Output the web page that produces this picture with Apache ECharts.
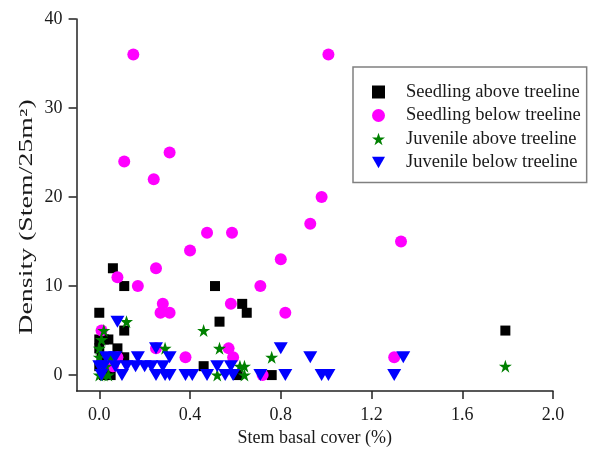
<!DOCTYPE html>
<html>
<head>
<meta charset="utf-8">
<script src="https://cdn.jsdelivr.net/npm/echarts@6/dist/echarts.min.js"></script>
<style>html,body{margin:0;padding:0;background:#fff}#c{width:595px;height:452px}</style>
</head>
<body>
<div id="c"></div>
<script>
var seriesNames = ['Seedling above treeline','Seedling below treeline','Juvenile above treeline','Juvenile below treeline'];
var xTicks = [0.0, 0.4, 0.8, 1.2, 1.6, 2.0];
var yTicks = [0, 10, 20, 30, 40];
var yTitle = 'Density (Stem/25m²)';
var xTitle = 'Stem basal cover (%)';

var seedlingAbove = [[0.00,7],[0.06,12],[0.11,10],[0.51,10],[0.63,8],[0.65,7],[0.53,6],[0.11,5],[0.08,3],[0.11,2],[0.46,1],[0.76,0],[1.79,5],
  [0.00,4],[0.02,4],[0.04,4],[0.00,3],[0.01,2],[0.00,1],[0.02,0],[0.05,0],[0.61,0]];
var seedlingBelow = [[0.15,36],[1.01,36],[0.11,24],[0.31,25],[0.24,22],[0.98,20],[0.93,17],[0.475,16],[0.585,16],[0.40,14],[1.33,15],
  [0.80,13],[0.25,12],[0.08,11],[0.17,10],[0.71,10],[0.28,8],[0.27,7],[0.31,7],[0.58,8],[0.82,7],[0.38,2],[0.57,3],[0.59,2],
  [0.01,5],[0.25,3],[0.08,2],[1.30,2],[0.72,0],[0.06,1]];
var juvenileAbove = [[0.12,6],[0.02,5],[0.46,5],[0.29,3],[0.53,3],[0.64,1],[0.62,1],[0.76,2],[0.52,0],[0.64,0],[0.00,3],[1.79,1],
  [0.00,2],[0.01,1],[0.00,0],[0.02,0],[0.03,1],[0.04,0],[0.05,2],[0.01,4]];
var juvenileBelow = [[0.08,6],[0.25,3],[0.80,3],[0.03,2],[0.07,2],[0.17,2],[0.31,2],[0.93,2],[1.34,2],[0.00,1],[0.02,1],[0.07,1],
  [0.12,1],[0.16,1],[0.20,1],[0.23,1],[0.28,1],[0.52,1],[0.58,1],[0.10,0],[0.25,0],[0.29,0],[0.31,0],[0.38,0],[0.41,0],[0.475,0],
  [0.555,0],[0.59,0],[0.71,0],[0.82,0],[0.98,0],[1.01,0],[1.30,0],[0.01,0]];

var SQR = 'path://M0,0 L10,0 L10,10 L0,10 Z';
var STAR = 'path://M5,0 L6.18,3.45 L9.76,3.45 L6.79,5.59 L7.94,9.05 L5,6.91 L2.06,9.05 L3.21,5.59 L0.24,3.45 L3.82,3.45 Z';
var TRI = 'path://M0,0 L10,0 L5,8.7 Z';
var FONT = '"Liberation Serif","Times New Roman",serif';
var TXT = '#1a1a1a';

var chart = echarts.init(document.getElementById('c'), null, {renderer:'canvas'});
chart.setOption({
  animation: false,
  backgroundColor: '#fff',
  grid: {left: 76.6, right: 42, top: 19, bottom: 57, containLabel: false},
  xAxis: {
    type: 'value', min: -0.1, max: 2.0,
    name: xTitle, nameLocation: 'middle', nameGap: 36,
    nameTextStyle: {fontFamily: FONT, fontSize: 18, color: TXT},
    axisLine: {show: true, onZero: false, lineStyle: {color: '#222', width: 1.5}},
    axisTick: {show: true, length: 8, lineStyle: {color: '#222', width: 1.5}, customValues: xTicks},
    axisLabel: {fontFamily: FONT, fontSize: 18, color: TXT, margin: 15, customValues: xTicks,
      formatter: function(v){ return v.toFixed(1); }},
    splitLine: {show: false}
  },
  yAxis: {
    type: 'value', min: -1.8, max: 40,
    axisLine: {show: true, onZero: false, lineStyle: {color: '#222', width: 1.5}},
    axisTick: {show: true, length: 8, lineStyle: {color: '#222', width: 1.5}, customValues: yTicks},
    axisLabel: {fontFamily: FONT, fontSize: 18, color: TXT, margin: 14, customValues: yTicks},
    splitLine: {show: false}
  },
  graphic: [{
    type: 'text', x: 27, y: 217, rotation: Math.PI / 2, scaleX: 1.55,
    style: {text: yTitle, font: '18px ' + FONT, fill: TXT, align: 'center', verticalAlign: 'middle'}
  }],
  legend: {
    orient: 'vertical', left: 353, top: 67,
    padding: [15.5, 6, 10.5, 19],
    itemWidth: 13, itemHeight: 13, itemGap: 4.5,
    borderColor: '#808080', borderWidth: 1.5, borderRadius: 0,
    textStyle: {fontFamily: FONT, fontSize: 18.5, lineHeight: 19, color: TXT, padding: [0,0,0,16]},
    data: [
      {name: seriesNames[0], icon: SQR},
      {name: seriesNames[1], icon: 'circle'},
      {name: seriesNames[2], icon: STAR},
      {name: seriesNames[3], icon: TRI}
    ]
  },
  series: [
    {name: seriesNames[0], type: 'scatter', data: seedlingAbove, symbol: 'rect', symbolSize: 10,
      itemStyle: {color: '#000000', opacity: 1}},
    {name: seriesNames[1], type: 'scatter', data: seedlingBelow, symbol: 'circle', symbolSize: 12,
      itemStyle: {color: '#ff00ff', opacity: 1}},
    {name: seriesNames[2], type: 'scatter', data: juvenileAbove, symbol: STAR, symbolSize: 13,
      itemStyle: {color: '#008000', opacity: 1}},
    {name: seriesNames[3], type: 'scatter', data: juvenileBelow, symbol: TRI, symbolSize: [14, 12],
      itemStyle: {color: '#0000ff', opacity: 1}}
  ]
});
</script>
</body>
</html>
